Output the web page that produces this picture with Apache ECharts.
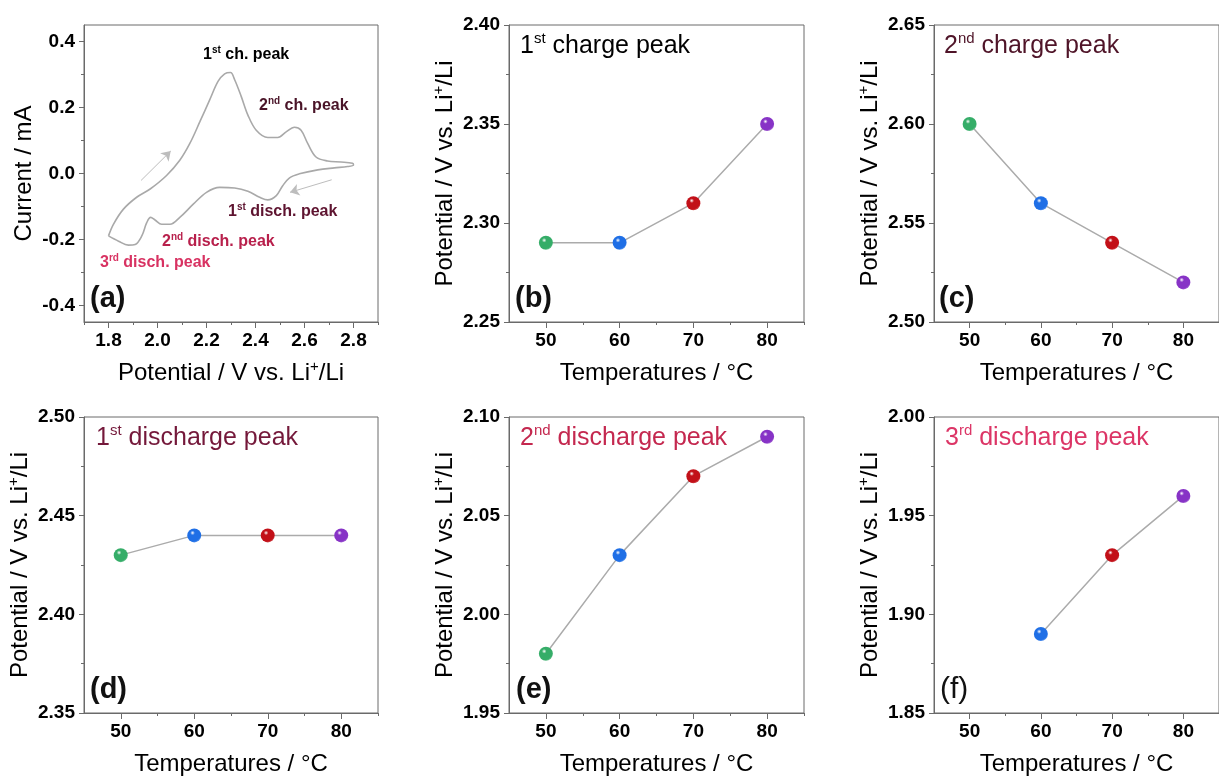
<!DOCTYPE html>
<html><head><meta charset="utf-8">
<script src="https://cdn.jsdelivr.net/npm/echarts@6/dist/echarts.min.js"></script>
<style>html,body{margin:0;padding:0;background:#fff}#c{width:1219px;height:778px}</style>
</head><body><div id="c"></div>
<script>
// ---- data ----
const temps = [50, 60, 70, 80];
const charge1 = [2.29, 2.29, 2.31, 2.35];
const charge2 = [2.60, 2.56, 2.54, 2.52];
const disch1 = [2.43, 2.44, 2.44, 2.44];
const disch2 = [1.98, 2.03, 2.07, 2.09];
const disch3 = [null, 1.89, 1.93, 1.96];
const tempColors = ['#35ad68', '#1f6fe6', '#c21018', '#8733c6'];

const cvPotential = [1.800,1.820,1.861,1.915,1.970,2.037,2.091,2.132,2.173,2.213,2.247,2.274,2.298,2.315,2.342,2.369,2.403,2.450,2.491,2.525,2.559,2.586,2.613,2.647,2.694,2.749,2.796,2.800,2.776,2.722,2.654,2.579,2.539,2.511,2.485,2.450,2.417,2.369,2.315,2.254,2.200,2.146,2.091,2.051,2.017,1.990,1.972,1.956,1.936,1.909,1.881,1.841,1.800];
const cvCurrent = [-0.189,-0.154,-0.108,-0.072,-0.047,-0.006,0.040,0.091,0.157,0.223,0.279,0.302,0.306,0.284,0.233,0.177,0.131,0.109,0.109,0.126,0.140,0.131,0.091,0.050,0.038,0.035,0.031,0.026,0.021,0.017,0.011,-0.001,-0.013,-0.037,-0.067,-0.080,-0.072,-0.054,-0.044,-0.042,-0.057,-0.093,-0.133,-0.154,-0.154,-0.141,-0.133,-0.149,-0.189,-0.215,-0.217,-0.205,-0.189];
const arrowUp = [[1.933, -0.021], [2.054, 0.068]];
const arrowDown = [[2.711, -0.019], [2.541, -0.057]];

const cvXTicks = [1.8, 2.0, 2.2, 2.4, 2.6, 2.8];
const cvXMinor = [1.7, 1.9, 2.1, 2.3, 2.5, 2.7, 2.9];
const cvYTicks = [-0.4, -0.2, 0.0, 0.2, 0.4];
const cvYMinor = [-0.3, -0.1, 0.1, 0.3];
const tempTicks = [50, 60, 70, 80];
const tempMinor = [55, 65, 75, 85];

// ---- style ----
const FF = '"Liberation Sans", Arial, sans-serif';
const AX = '#6a6a6a';
const nameRich = {
  m: {fontSize: 24, fontFamily: FF, color: '#000', lineHeight: 28},
  s: {fontSize: 15, fontFamily: FF, color: '#000', verticalAlign: 'top', lineHeight: 28}
};
const potName = '{m|Potential / V vs. Li}{s|+}{m|/Li}';

function sphere(c) {
  return {type: 'radial', x: 0.38, y: 0.32, r: 0.75, colorStops: [
    {offset: 0, color: '#ffffff'},
    {offset: 0.22, color: c},
    {offset: 0.8, color: c},
    {offset: 1, color: echarts.color.lift(c, 0.35)}
  ]};
}

const grids = [
  {left: 84, top: 25, width: 294, height: 297},
  {left: 509, top: 25, width: 295, height: 297},
  {left: 934, top: 25, width: 295, height: 297},
  {left: 84, top: 417, width: 294, height: 296},
  {left: 509, top: 417, width: 295, height: 296},
  {left: 934, top: 417, width: 295, height: 296}
].map(g => Object.assign({show: true, borderColor: AX, borderWidth: 1, backgroundColor: 'transparent'}, g));

const xAxis = [], yAxis = [];
function addAxes(gi, xr, xt, xm, xf, xname, yr, yt, ym, yf, yname, yGap) {
  xAxis.push({
    type: 'value', gridIndex: gi, min: xr[0], max: xr[1], position: 'bottom',
    axisLine: {show: true, onZero: false, lineStyle: {color: AX, width: 1}},
    axisTick: {show: true, customValues: xt, length: 6, lineStyle: {color: AX}},
    axisLabel: {customValues: xt, formatter: xf, fontSize: 19, fontWeight: 'bold', color: '#000', fontFamily: FF, margin: 9},
    splitLine: {show: false},
    name: xname, nameLocation: 'middle', nameGap: 37,
    nameTextStyle: {rich: nameRich}
  });
  xAxis.push({
    type: 'value', gridIndex: gi, min: xr[0], max: xr[1], position: 'bottom',
    axisLine: {show: false, onZero: false},
    axisTick: {show: true, customValues: xm, length: 3, lineStyle: {color: AX}},
    axisLabel: {show: false}, splitLine: {show: false}
  });
  yAxis.push({
    type: 'value', gridIndex: gi, min: yr[0], max: yr[1], position: 'left',
    axisLine: {show: true, onZero: false, lineStyle: {color: AX, width: 1}},
    axisTick: {show: true, customValues: yt, length: 5, lineStyle: {color: AX}},
    axisLabel: {customValues: yt, formatter: yf, fontSize: 19, fontWeight: 'bold', color: '#000', fontFamily: FF, margin: 9},
    splitLine: {show: false},
    name: yname, nameLocation: 'middle', nameGap: yGap, nameRotate: 90,
    nameTextStyle: {rich: nameRich}
  });
  yAxis.push({
    type: 'value', gridIndex: gi, min: yr[0], max: yr[1], position: 'left',
    axisLine: {show: false, onZero: false},
    axisTick: {show: true, customValues: ym, length: 3, lineStyle: {color: AX}},
    axisLabel: {show: false}, splitLine: {show: false}
  });
}
const f1 = v => v.toFixed(1), f2 = v => v.toFixed(2), f0 = v => String(Math.round(v));
const tName = '{m|Temperatures / °C}';

addAxes(0, [1.7, 2.9], cvXTicks, cvXMinor, f1, potName, [-0.45, 0.45], cvYTicks, cvYMinor, f1, '{m|Current / mA}', 46);
const panels = [
  {vals: charge1, yr: [2.25, 2.40]},
  {vals: charge2, yr: [2.50, 2.65]},
  {vals: disch1, yr: [2.35, 2.50]},
  {vals: disch2, yr: [1.95, 2.10]},
  {vals: disch3, yr: [1.85, 2.00]}
];
panels.forEach((p, i) => {
  const lo = p.yr[0], step = 0.05;
  const yt = [0, 1, 2, 3].map(k => +(lo + k * step).toFixed(3));
  const ym = [0, 1, 2].map(k => +(lo + step / 2 + k * step).toFixed(4));
  addAxes(i + 1, [45, 85], tempTicks, tempMinor, f0, tName, p.yr, yt, ym, f2, potName, 50);
});

const series = [{
  type: 'line', xAxisIndex: 0, yAxisIndex: 0, smooth: 0.35, showSymbol: false, silent: true,
  lineStyle: {color: '#a9a9a9', width: 1.6},
  data: cvPotential.map((x, i) => [x, cvCurrent[i]]),
  markLine: {
    silent: true, symbol: ['none', 'arrow'], symbolSize: 9, label: {show: false},
    lineStyle: {color: '#bdbdbd', width: 1, type: 'solid', curveness: 0.12},
    data: [
      [{coord: arrowUp[0]}, {coord: arrowUp[1]}],
      [{coord: arrowDown[0]}, {coord: arrowDown[1]}]
    ]
  }
}];
panels.forEach((p, i) => {
  const data = [];
  temps.forEach((t, k) => {
    if (p.vals[k] != null) data.push({value: [t, p.vals[k]], itemStyle: {color: sphere(tempColors[k])}});
  });
  series.push({
    type: 'line', xAxisIndex: (i + 1) * 2, yAxisIndex: (i + 1) * 2, silent: true,
    symbol: 'circle', symbolSize: 14,
    lineStyle: {color: '#ababab', width: 1.5},
    data
  });
});

function rt(x, y, text, size, color, weight, supSize) {
  return {
    type: 'text', x, y, z: 100, silent: true,
    style: {
      text, fontFamily: FF, fontSize: size, fill: color, fontWeight: weight,
      align: 'left', verticalAlign: 'middle', textAlign: 'left', textVerticalAlign: 'middle',
      rich: {
        m: {fontSize: size, fontFamily: FF, fill: color, fontWeight: weight, lineHeight: size + 4},
        s: {fontSize: supSize, fontFamily: FF, fill: color, fontWeight: weight, verticalAlign: 'top', lineHeight: size + 4}
      }
    }
  };
}
const graphic = [
  // panel letters
  rt(90, 299, '{m|(a)}', 29, '#111', 'bold', 16),
  rt(515, 299, '{m|(b)}', 29, '#111', 'bold', 16),
  rt(939, 299, '{m|(c)}', 29, '#111', 'bold', 16),
  rt(90, 690, '{m|(d)}', 29, '#111', 'bold', 16),
  rt(516, 690, '{m|(e)}', 29, '#111', 'bold', 16),
  rt(940, 690, '{m|(f)}', 30, '#111', 'normal', 16),
  // panel titles
  rt(520, 46, '{m|1}{s|st}{m| charge peak}', 25, '#000', 'normal', 15),
  rt(944, 46, '{m|2}{s|nd}{m| charge peak}', 25, '#4f1428', 'normal', 15),
  rt(96, 438, '{m|1}{s|st}{m| discharge peak}', 25, '#74183a', 'normal', 15),
  rt(520, 438, '{m|2}{s|nd}{m| discharge peak}', 25, '#c4284f', 'normal', 15),
  rt(945, 438, '{m|3}{s|rd}{m| discharge peak}', 25, '#dc3566', 'normal', 15),
  // CV annotations
  rt(203, 55, '{m|1}{s|st}{m| ch. peak}', 16, '#000', 'bold', 10),
  rt(259, 106, '{m|2}{s|nd}{m| ch. peak}', 16, '#4a1428', 'bold', 10),
  rt(228, 212, '{m|1}{s|st}{m| disch. peak}', 16, '#5e1430', 'bold', 10),
  rt(162, 242, '{m|2}{s|nd}{m| disch. peak}', 16, '#b8204c', 'bold', 10),
  rt(100, 263, '{m|3}{s|rd}{m| disch. peak}', 16, '#d83262', 'bold', 10)
];

const chart = echarts.init(document.getElementById('c'), null, {renderer: 'canvas'});
chart.setOption({
  animation: false,
  backgroundColor: '#fff',
  textStyle: {fontFamily: FF},
  grid: grids, xAxis, yAxis, series, graphic
});
</script>
</body></html>
